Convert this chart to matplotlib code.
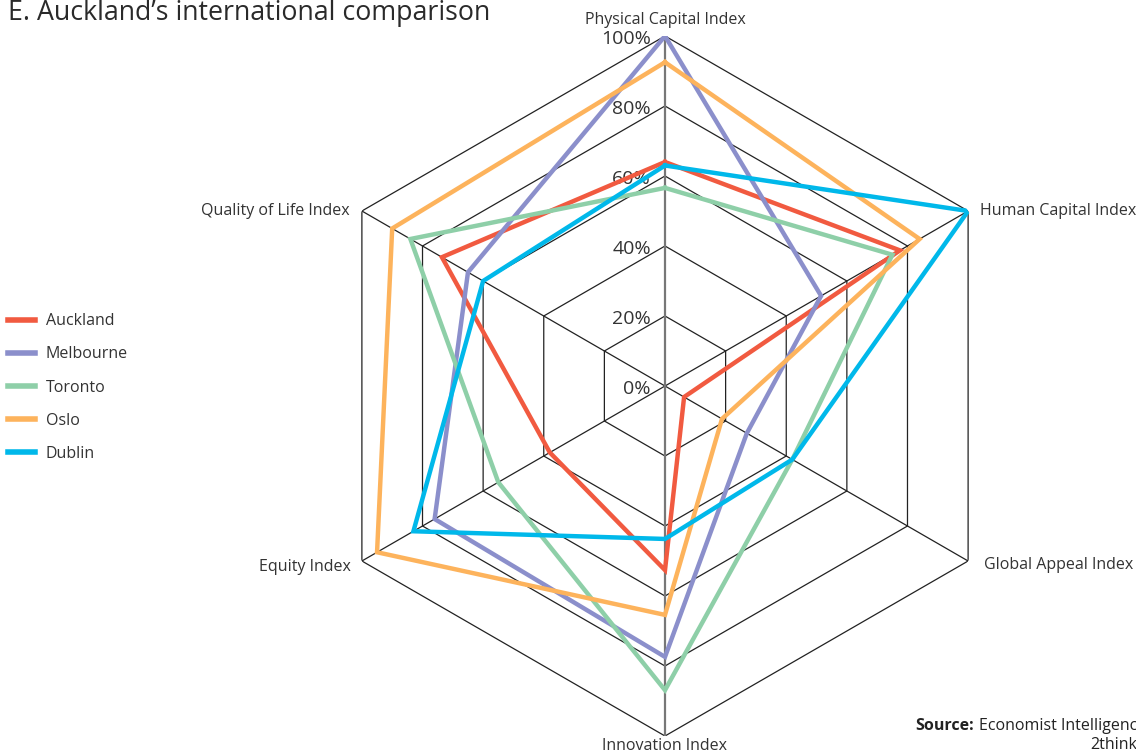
import numpy as np
import matplotlib
matplotlib.use("Agg")
import matplotlib.pyplot as plt

plt.rcParams['font.family'] = ['Open Sans', 'DejaVu Sans']

# data (share of the best city)
categories = ["Physical Capital Index", "Human Capital Index", "Global Appeal Index",
              "Innovation Index", "Equity Index", "Quality of Life Index"]
cities = ["Auckland", "Melbourne", "Toronto", "Oslo", "Dublin"]
auckland = [0.64, 0.775, 0.063, 0.526, 0.38, 0.736]
melbourne = [1.00, 0.515, 0.27, 0.774, 0.76, 0.65]
toronto = [0.566, 0.75, 0.42, 0.869, 0.55, 0.84]
oslo = [0.925, 0.84, 0.188, 0.654, 0.95, 0.90]
dublin = [0.63, 1.00, 0.42, 0.437, 0.83, 0.60]
ring_levels = [0.2, 0.4, 0.6, 0.8, 1.0]
ring_labels = ["0%", "20%", "40%", "60%", "80%", "100%"]

colors = ["#F15A40", "#8B8FCB", "#8ECFA8", "#FDB35C", "#00B8EA"]
series = [auckland, melbourne, toronto, oslo, dublin]

fig = plt.figure(figsize=(11.36, 7.53), dpi=100)
fig.patch.set_facecolor("white")

# centre at (665, 386) px, radius 350 px
cx, cy, R = 665 / 1136, 1 - 386 / 753, 350
ax = fig.add_axes([cx - R / 1136, cy - R / 753, 2 * R / 1136, 2 * R / 753],
                  projection="polar")
ax.set_theta_offset(np.pi / 2)
ax.set_theta_direction(-1)
ax.set_ylim(0, 1)
ax.grid(False)
ax.set_xticks([])
ax.set_yticks([])
ax.spines['polar'].set_visible(False)
ax.patch.set_alpha(0)

n = len(categories)
angles = np.arange(n) * 2 * np.pi / n
closed = np.append(angles, angles[0])

# hexagonal grid
for r in ring_levels:
    ax.plot(closed, [r] * (n + 1), color="#222222", lw=0.9, zorder=1)
for a in angles:
    if np.isclose(a, 0) or np.isclose(a, np.pi):
        continue
    ax.plot([a, a], [0, 1], color="#222222", lw=0.9, zorder=1)
ax.plot([0, 0], [0, 1], color="#777777", lw=1.6, zorder=1)
ax.plot([np.pi, np.pi], [0, 1], color="#777777", lw=1.6, zorder=1)

# percentage labels along the top spoke
for r, lab in zip([0.0] + ring_levels, ring_labels):
    ax.annotate(lab, xy=(0, r), xytext=(-14, -3), textcoords="offset pixels",
                ha="right", va="center", fontsize=14, color="#333333")

# data polygons
for vals, col, name in zip(series, colors, cities):
    v = vals + vals[:1]
    ax.plot(closed, v, color=col, lw=3.2, label=name, zorder=3,
            solid_joinstyle="miter")

# category labels
offsets = [((0, 16), "center", "center"),
           ((12, 0), "left", "center"),
           ((16, -4), "left", "center"),
           ((0, -10), "center", "center"),
           ((-11, -6), "right", "center"),
           ((-12, 0), "right", "center")]
for a, lab, (off, ha, va) in zip(angles, categories, offsets):
    ax.annotate(lab, xy=(a, 1), xytext=(off[0], off[1]), textcoords="offset pixels",
                ha=ha, va=va, fontsize=11.5, color="#333333", annotation_clip=False)

# legend
handles, labels = ax.get_legend_handles_labels()
leg = fig.legend(handles, labels, loc="upper left",
                 bbox_to_anchor=(2 / 1136, 1 - 307 / 753),
                 frameon=False, fontsize=11.5, handlelength=1.65, handletextpad=0.7,
                 labelspacing=1.07, borderaxespad=0)
for line in leg.get_lines():
    line.set_linewidth(4)
for t in leg.get_texts():
    t.set_color("#333333")

fig.text(8 / 1136, 1 - 13 / 753, "E. Auckland\u2019s international comparison",
         fontsize=19.3, color="#2a2a2a", ha="left", va="center")

fig.text(915 / 1136, 1 - 726 / 753, "Source:", fontsize=11.5, fontweight="bold",
         color="#222222", ha="left", va="center")
fig.text(979 / 1136, 1 - 726 / 753, "Economist Intelligence Unit,", fontsize=11.5,
         color="#222222", ha="left", va="center")
fig.text(1090 / 1136, 1 - 745 / 753, "2thinknow", fontsize=11.5,
         color="#222222", ha="left", va="center")

fig.savefig("out.png", dpi=100)
